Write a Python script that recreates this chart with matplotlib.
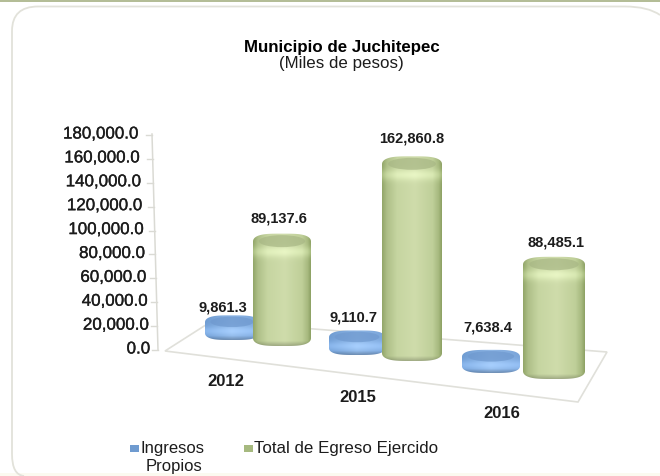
#   Municipio de Juchitepec - faux 3D cylinder chart
import numpy as np
import matplotlib
matplotlib.use("Agg")
import matplotlib.pyplot as plt
import matplotlib.patheffects as pe
from matplotlib.patches import Ellipse, Rectangle, Polygon, PathPatch
from matplotlib.path import Path

plt.rcParams['font.family'] = ['Liberation Sans', 'DejaVu Sans']

YEARS = ["2012", "2015", "2016"]
INGRESOS = [9861.3, 9110.7, 7638.4]
EGRESOS = [89137.6, 162860.8, 88485.1]
AXIS_TICKS = [0, 20000, 40000, 60000, 80000, 100000, 120000, 140000, 160000, 180000]

# layout in pixels of the 660x477 picture
ZERO_PY = 350.0
PX_PER_UNIT = 215.0 / 180000.0
DEPTH_SCALE = [0.905, 0.97, 1.005]
GREEN_X = [282, 412, 554]
GREEN_BASE = [339, 354, 372]
BLUE_X = [232, 357, 491]
BLUE_BASE = [334, 349, 367]
YEAR_POS = [(226, 381), (358, 397), (502, 414)]
INGRESOS_LABEL_POS = [(223, 307), (353, 318), (488, 328)]
EGRESOS_LABEL_POS = [(279, 219), (412, 139), (556, 243)]

GREEN_PROFILE = [(0.0, "#93a76a"), (0.08, "#aebf88"), (0.25, "#c6d5a1"), (0.55, "#cfdcab"),
                 (0.85, "#bfcf99"), (0.95, "#a7b97f"), (1.0, "#8ea265")]
BLUE_PROFILE = [(0.0, "#6f9cd2"), (0.5, "#8db5e4"), (1.0, "#7aa5da")]


def py(pixel):
    # picture row to value on the y scale
    return (ZERO_PY - pixel) / PX_PER_UNIT


def profile(stops, n):
    t = np.linspace(0, 1, n)
    rgb = [matplotlib.colors.to_rgb(s[1]) for s in stops]
    out = np.zeros((n, 3))
    for c in range(3):
        out[:, c] = np.interp(t, [s[0] for s in stops], [col[c] for col in rgb])
    return out


def capsule(x, w, top, bottom, ry):
    # outline of a cylinder with rounded shoulders
    th = np.linspace(0, np.pi, 60)
    cx = np.sign(np.cos(th)) * np.abs(np.cos(th)) ** 0.55
    sy = np.sin(th) ** 0.9
    xs = np.r_[x + w / 2 * cx, x - w / 2 * cx]
    ys = np.r_[top - ry * sy, bottom + ry * sy]
    return np.column_stack([xs, py(ys)])


def cylinder(ax, x, w, top, bottom, ry, stops, capcol, z):
    clip = Polygon(capsule(x, w, top, bottom, ry), closed=True, fc="none", ec="none", zorder=z)
    ax.add_patch(clip)
    h = int(bottom - top + 2 * ry) + 2
    img = np.tile(profile(stops, 80)[None, :, :], (h, 1, 1))
    rows = np.arange(h, dtype=float)
    # lighter shoulder below the cap, darker rim along the foot
    light = 0.10 * np.exp(-((rows - 2.3 * ry) / (0.7 * ry)) ** 2)
    dark = 0.25 * np.clip((rows - (h - 0.7 * ry)) / (0.7 * ry), 0, 1)
    img = np.clip(img + light[:, None, None] - dark[:, None, None] * img, 0, 1)
    im = ax.imshow(img, extent=[x - w / 2, x + w / 2, py(bottom + ry), py(top - ry)],
                   aspect="auto", zorder=z, interpolation="bilinear")
    im.set_clip_path(clip)
    ax.add_patch(Ellipse((x, py(top - 0.5)), w * 0.8, 1.5 * ry / PX_PER_UNIT, fc=capcol, ec="none",
                         zorder=z + 0.1, alpha=0.7))


def main():
    fig = plt.figure(figsize=(6.6, 4.77), dpi=100, facecolor="white")
    ax = fig.add_axes([0, 0, 1, 1])
    ax.axis("off")

    # page frame
    ax.add_patch(Rectangle((0, py(3)), 660, py(0) - py(3), fc="#b4bd97", ec="none", zorder=0))
    ax.add_patch(Rectangle((0, py(477)), 660, py(474) - py(477), fc="#fbfaf0", ec="none", zorder=0))
    frame = Path([(660, py(16)), (648, py(7.5)), (625, py(7.5)), (38, py(7.5)), (12, py(7.5)), (12, py(32)),
                  (12, py(455)), (12, py(476)), (24, py(477))],
                 [Path.MOVETO, Path.CURVE3, Path.CURVE3, Path.LINETO, Path.CURVE3, Path.CURVE3,
                  Path.LINETO, Path.CURVE3, Path.CURVE3])
    ax.add_patch(PathPatch(frame, fc="none", ec="#e2e2da", lw=1.3, zorder=1))

    # floor and value axis
    floor = [(165, 352), (212, 322), (607, 353), (578, 403)]
    ax.add_patch(Polygon([(a, py(b)) for a, b in floor], closed=True, fc="none", ec="#e0e0da",
                         lw=1.2, zorder=2))
    for v in AXIS_TICKS:
        row = ZERO_PY - v * PX_PER_UNIT
        lean = v / 180000.0
        edge = 158 - 6 * lean
        ax.plot([edge - 6, edge], [py(row + 1), py(row + 1)], color="#dadad4", lw=1, zorder=2)
        ax.text(150 - 12 * lean, py(row), f"{v:,.1f}", ha="right", va="center", fontsize=12.2,
                color="#1c1c1c", zorder=6,
                path_effects=[pe.withStroke(linewidth=0.25, foreground="#1c1c1c")])
    ax.plot([152, 158], [py(135), py(351)], color="#dadad4", lw=1.1, zorder=2)

    # disks first, the tall cylinders stand in front of them
    for i in range(len(YEARS)):
        height = INGRESOS[i] * PX_PER_UNIT * DEPTH_SCALE[i]
        cylinder(ax, BLUE_X[i], 54 + 2 * i, BLUE_BASE[i] - height, BLUE_BASE[i], 7,
                 BLUE_PROFILE, "#6f99cf", 3)
        lx, ly = INGRESOS_LABEL_POS[i]
        ax.text(lx, py(ly), f"{INGRESOS[i]:,.1f}", ha="center", va="center", fontsize=10.5,
                fontweight="bold", color="#1c1c1c", zorder=7)

    for i in range(len(YEARS)):
        height = EGRESOS[i] * PX_PER_UNIT * DEPTH_SCALE[i]
        cylinder(ax, GREEN_X[i], 58 + 2 * i, GREEN_BASE[i] - height, GREEN_BASE[i], 8,
                 GREEN_PROFILE, "#a8b785", 4 + i * 0.2)
        lx, ly = EGRESOS_LABEL_POS[i]
        ax.text(lx, py(ly), f"{EGRESOS[i]:,.1f}", ha="center", va="center", fontsize=10.5,
                fontweight="bold", color="#1c1c1c", zorder=7)
        ax.text(YEAR_POS[i][0], py(YEAR_POS[i][1]), YEARS[i], ha="center", va="center", fontsize=12,
                fontweight="bold", color="#1c1c1c", zorder=7)

    # title
    ax.text(342, py(48), "Municipio de Juchitepec", ha="center", va="center", fontsize=12.2,
            fontweight="bold", color="black", zorder=7)
    ax.text(341, py(64), "(Miles de pesos)", ha="center", va="center", fontsize=12.2,
            color="#1c1c1c", zorder=7)

    # legend
    ax.add_patch(Rectangle((130, py(453)), 9, py(446) - py(453), fc="#6f9bd0", ec="none", zorder=6))
    ax.add_patch(Rectangle((244, py(453)), 9, py(446) - py(453), fc="#a6b97f", ec="none", zorder=6))
    ax.text(141, py(449), "Ingresos", ha="left", va="center", fontsize=12, color="#1c1c1c", zorder=7)
    ax.text(174, py(467), "Propios", ha="center", va="center", fontsize=12, color="#1c1c1c", zorder=7)
    ax.text(254, py(449), "Total de Egreso Ejercido", ha="left", va="center", fontsize=12.2,
            color="#1c1c1c", zorder=7)

    ax.set_xlim(0, 660)
    ax.set_ylim(py(477), py(0))
    fig.savefig("out.png", dpi=100, facecolor="white")


if (__name__ == "__main__"):
    main()
